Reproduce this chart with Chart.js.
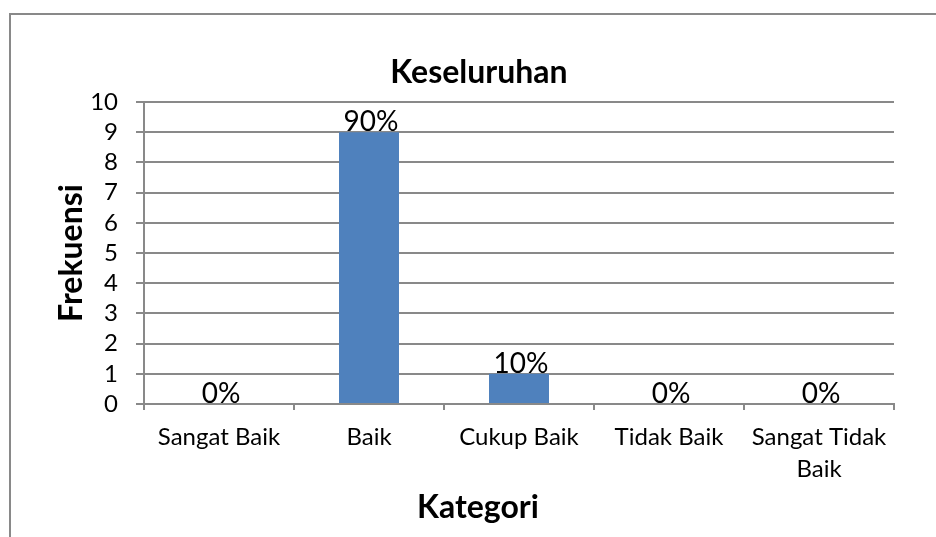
<!DOCTYPE html>
<html>
<head>
<meta charset="utf-8">
<script src="https://cdn.jsdelivr.net/npm/chart.js@4.4.0/dist/chart.umd.min.js"></script>
<style>
  html, body { margin: 0; padding: 0; background: #fff; }
</style>
</head>
<body>
<canvas id="chart" width="936" height="537"></canvas>
<script>
// data
var categories = ['Sangat Baik', 'Baik', 'Cukup Baik', 'Tidak Baik', ['Sangat Tidak', 'Baik']];
var frekuensi = [0, 9, 1, 0, 0];
var yMin = 0, yMax = 10, yStep = 1;
var chartTitle = 'Keseluruhan';
var xTitle = 'Kategori';
var yTitle = 'Frekuensi';

var total = frekuensi.reduce(function (a, b) { return a + b; }, 0);
var gridColor = '#898989';

Chart.defaults.font.family = 'Lato';
Chart.defaults.color = '#000';

// outer frame + white background
var framePlugin = {
  id: 'frame',
  beforeDraw: function (chart) {
    var c = chart.ctx;
    c.save();
    c.fillStyle = '#fff';
    c.fillRect(0, 0, chart.width, chart.height);
    c.strokeStyle = gridColor;
    c.lineWidth = 2;
    c.strokeRect(10, 14, 960, 560);
    c.restore();
  }
};

// percentage labels on top of bars, plus chart / x titles
var labelPlugin = {
  id: 'labels',
  afterDatasetsDraw: function (chart) {
    var c = chart.ctx;
    var meta = chart.getDatasetMeta(0);
    c.save();
    c.fillStyle = '#000';
    c.font = '28px Lato';
    c.textAlign = 'center';
    c.textBaseline = 'alphabetic';
    meta.data.forEach(function (bar, i) {
      var pct = Math.round(frekuensi[i] / total * 100) + '%';
      c.fillText(pct, bar.x + 2, bar.y - 1);
    });
    c.font = 'bold 32px Lato';
    c.textBaseline = 'middle';
    c.fillText(chartTitle, 479, 73);
    c.fillText(xTitle, 478, 508);
    c.restore();
  }
};

var ctx = document.getElementById('chart').getContext('2d');
var chart = new Chart(ctx, {
  type: 'bar',
  data: {
    labels: categories,
    datasets: [{
      data: frekuensi,
      backgroundColor: '#4F81BD',
      borderWidth: 0,
      categoryPercentage: 1,
      barPercentage: 0.4
    }]
  },
  options: {
    responsive: false,
    animation: false,
    layout: { padding: { top: 102, left: 0, right: 42, bottom: 0 } },
    plugins: {
      legend: { display: false },
      tooltip: { enabled: false }
    },
    scales: {
      x: {
        offset: true,
        grid: { display: true, drawOnChartArea: false, offset: true, tickLength: 6, color: gridColor, lineWidth: 2 },
        border: { color: gridColor, width: 2 },
        ticks: { font: { size: 24, lineHeight: 1.3 }, padding: 12, maxRotation: 0, autoSkip: false },
        afterFit: function (s) { s.height = 133; }
      },
      y: {
        min: yMin,
        max: yMax,
        grid: { color: gridColor, lineWidth: 2, tickLength: 8 },
        border: { color: gridColor, width: 2 },
        ticks: { stepSize: yStep, autoSkip: false, font: { size: 24 }, padding: 18 },
        title: { display: true, text: yTitle, font: { size: 32, weight: 'bold', lineHeight: 1.2 }, padding: { top: 52.8, bottom: 0 } },
        afterFit: function (s) { s.width = 144; }
      }
    }
  },
  plugins: [framePlugin, labelPlugin]
});
</script>
</body>
</html>
